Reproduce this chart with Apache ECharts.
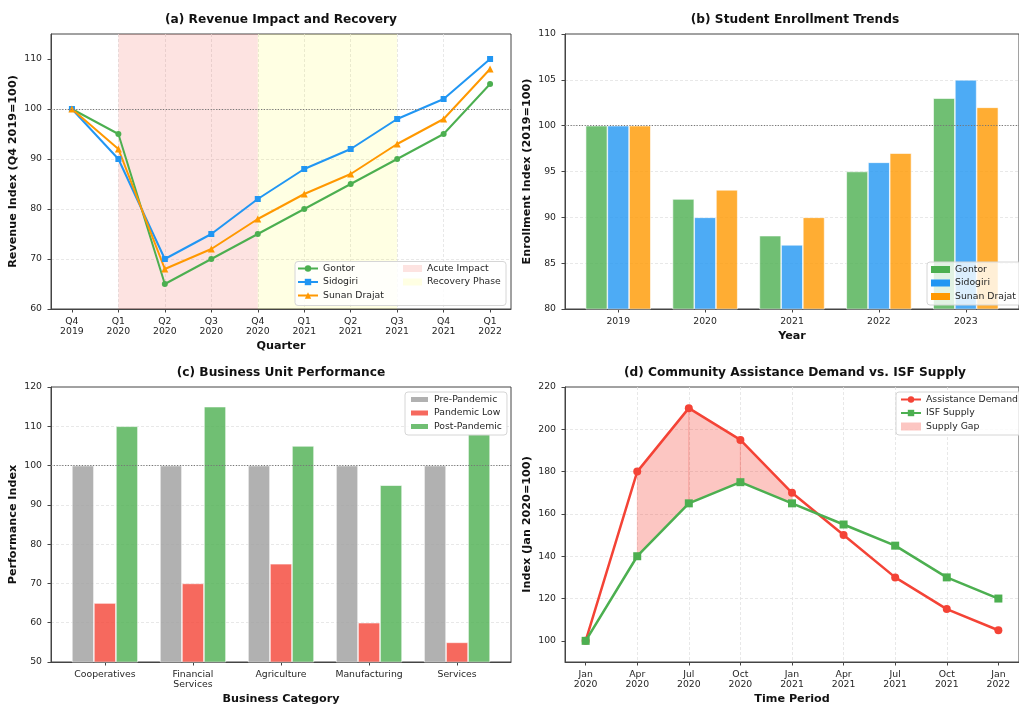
<!DOCTYPE html>
<html>
<head>
<meta charset="utf-8">
<script src="https://cdn.jsdelivr.net/npm/echarts@6/dist/echarts.min.js"></script>
<style>
  html, body { margin: 0; padding: 0; background: #fff; }
  #chart { width: 1019px; height: 706px; }
</style>
</head>
<body>
<div id="chart"></div>
<script>
// ---- (a) revenue index by quarter ----
const quarters = ['Q4\n2019', 'Q1\n2020', 'Q2\n2020', 'Q3\n2020', 'Q4\n2020',
                  'Q1\n2021', 'Q2\n2021', 'Q3\n2021', 'Q4\n2021', 'Q1\n2022'];
const revGontor   = [100, 95, 65, 70, 75, 80, 85, 90, 95, 105];
const revSidogiri = [100, 90, 70, 75, 82, 88, 92, 98, 102, 110];
const revSunan    = [100, 92, 68, 72, 78, 83, 87, 93, 98, 108];
const acuteSpan    = [1, 4];   // quarter index range
const recoverySpan = [4, 7];
const revTicks = [60, 70, 80, 90, 100, 110];

// ---- (b) enrollment index by year ----
const years = ['2019', '2020', '2021', '2022', '2023'];
const enrGontor   = [100, 92, 88, 95, 103];
const enrSidogiri = [100, 90, 87, 96, 105];
const enrSunan    = [100, 93, 90, 97, 102];
const enrTicks = [80, 85, 90, 95, 100, 105, 110];

// ---- (c) business unit performance ----
const units = ['Cooperatives', 'Financial\nServices', 'Agriculture', 'Manufacturing', 'Services'];
const perfPre  = [100, 100, 100, 100, 100];
const perfLow  = [65, 70, 75, 60, 55];
const perfPost = [110, 115, 105, 95, 108];
const perfTicks = [50, 60, 70, 80, 90, 100, 110, 120];

// ---- (d) assistance demand vs supply ----
const periods = ['Jan\n2020', 'Apr\n2020', 'Jul\n2020', 'Oct\n2020', 'Jan\n2021',
                 'Apr\n2021', 'Jul\n2021', 'Oct\n2021', 'Jan\n2022'];
const demand = [100, 180, 210, 195, 170, 150, 130, 115, 105];
const supply = [100, 140, 165, 175, 165, 155, 145, 130, 120];
const demandTicks = [100, 120, 140, 160, 180, 200, 220];

const GREEN = '#4CAF50', BLUE = '#2196F3', ORANGE = '#FF9800', RED = '#F44336';
// bar fills at 80% opacity
const BAR_GREEN = 'rgba(76,175,80,0.8)', BAR_BLUE = 'rgba(33,150,243,0.8)',
      BAR_ORANGE = 'rgba(255,152,0,0.8)', BAR_RED = 'rgba(244,67,54,0.8)', BAR_GRAY = 'rgba(158,158,158,0.8)';
const GAP_FILL = 'rgba(244,67,54,0.3)';
const FONT = 'DejaVu Sans';
const TXT = '#262626';

const pairs = arr => arr.map((v, i) => [i, v]);
const idx = n => Array.from({ length: n }, (_, i) => i);

const gridBox = (left, top) => ({
  left: left, top: top, width: 460, height: 275,
  show: true, borderColor: '#444', borderWidth: 1, backgroundColor: 'transparent'
});

const gridLine = {
  show: true, showMinLine: false, showMaxLine: false,
  lineStyle: { color: '#e2e2e2', type: [3, 2], width: 0.8 }
};

function xAxis(gi, min, max, labels, name, nameGap, grid) {
  const ticks = idx(labels.length);
  return {
    type: 'value', gridIndex: gi, min: min, max: max,
    name: name, nameLocation: 'middle', nameGap: nameGap,
    nameTextStyle: { fontFamily: FONT, fontWeight: 'bold', fontSize: 11.2, color: '#111' },
    axisLine: { show: true, onZero: false, lineStyle: { color: '#444', width: 1 } },
    axisTick: { show: true, length: 3.5, customValues: ticks, lineStyle: { color: '#444' } },
    axisLabel: {
      customValues: ticks, margin: 7, color: TXT, fontFamily: FONT, fontSize: 9.3, lineHeight: 10.5,
      formatter: v => labels[Math.round(v)]
    },
    splitLine: grid ? gridLine : { show: false }
  };
}

function yAxis(gi, min, max, ticks, name) {
  return {
    type: 'value', gridIndex: gi, min: min, max: max,
    name: name, nameLocation: 'middle', nameGap: 32,
    nameTextStyle: { fontFamily: FONT, fontWeight: 'bold', fontSize: 11.2, color: '#111' },
    axisLine: { show: true, onZero: false, lineStyle: { color: '#444', width: 1 } },
    axisTick: { show: true, length: 3.5, customValues: ticks, lineStyle: { color: '#444' } },
    axisLabel: { customValues: ticks, margin: 9, color: TXT, fontFamily: FONT, fontSize: 9.3 },
    splitLine: gridLine
  };
}

const refLine = {
  silent: true, symbol: 'none', label: { show: false },
  lineStyle: { color: '#777', type: [1.2, 1.6], width: 1 },
  data: [{ yAxis: 100 }]
};

function lineSeries(name, data, color, symbol, gi, width, size, extra) {
  return Object.assign({
    name: name, type: 'line', xAxisIndex: gi, yAxisIndex: gi,
    data: pairs(data), symbol: symbol, symbolSize: size, showSymbol: true,
    lineStyle: { color: color, width: width }, itemStyle: { color: color }, z: 3
  }, extra || {});
}

function barSeries(name, data, color, gi, extra) {
  return Object.assign({
    name: name, type: 'bar', xAxisIndex: gi, yAxisIndex: gi,
    data: pairs(data), barWidth: '25%', barGap: '0%',
    itemStyle: { color: color, borderColor: '#fff', borderWidth: 0.6 }
  }, extra || {});
}

function spanSeries(name, span, color) {
  return {
    name: name, type: 'line', xAxisIndex: 0, yAxisIndex: 0, data: [], z: 1,
    itemStyle: { color: color }, lineStyle: { color: color },
    markArea: { silent: true, itemStyle: { color: color }, data: [[{ xAxis: span[0] }, { xAxis: span[1] }]] }
  };
}

const legendText = { fontFamily: FONT, fontSize: 9.3, color: TXT, lineHeight: 11 };
const legendBase = {
  orient: 'vertical', itemWidth: 20, itemHeight: 8, itemGap: 2.5,
  textStyle: legendText, selectedMode: false
};
const boxedLegend = (left, top, data, icon) => Object.assign({}, legendBase, {
  left: left, top: top, icon: icon,
  itemWidth: icon === 'rect' ? 19 : 20, itemHeight: icon === 'rect' ? 7 : 8,
  data: data, padding: [2, 5, 3, 4],
  backgroundColor: 'rgba(255,255,255,0.8)', borderColor: '#d6d6d6', borderWidth: 1, borderRadius: 3
});

// segments between consecutive periods where demand exceeds supply
const gapIdx = idx(demand.length).filter(i => demand[i] > supply[i]);
const gapSegments = gapIdx.slice(0, -1)
  .filter((i, k) => gapIdx[k + 1] === i + 1)
  .map(i => [i, demand[i], supply[i], demand[i + 1], supply[i + 1]]);

function renderGap(params, api) {
  const i = api.value(0);
  const pts = [
    api.coord([i, api.value(1)]),
    api.coord([i + 1, api.value(3)]),
    api.coord([i + 1, api.value(4)]),
    api.coord([i, api.value(2)])
  ];
  return { type: 'polygon', shape: { points: pts }, style: { fill: GAP_FILL, stroke: GAP_FILL, lineWidth: 0.5 } };
}

const titleText = (x, y, text) => ({
  type: 'text', x: x, y: y, z: 10,
  style: { text: text, fill: '#111', font: 'bold 12.2px "DejaVu Sans"', textAlign: 'center', textVerticalAlign: 'middle' }
});

const option = {
  animation: false,
  backgroundColor: '#fff',
  textStyle: { fontFamily: FONT },
  grid: [gridBox(51, 34), gridBox(565, 34), gridBox(51, 387), gridBox(565, 387)],
  xAxis: [
    xAxis(0, -0.45, 9.45, quarters, 'Quarter', 32, true),
    xAxis(1, -0.6125, 4.6125, years, 'Year', 22, false),
    xAxis(2, -0.6125, 4.6125, units, 'Business Category', 32, false),
    xAxis(3, -0.4, 8.4, periods, 'Time Period', 32, true)
  ],
  yAxis: [
    yAxis(0, 60, 115, revTicks, 'Revenue Index (Q4 2019=100)'),
    yAxis(1, 80, 110, enrTicks, 'Enrollment Index (2019=100)'),
    yAxis(2, 50, 120, perfTicks, 'Performance Index'),
    yAxis(3, 90, 220, demandTicks, 'Index (Jan 2020=100)')
  ],
  legend: [
    Object.assign({}, legendBase, { left: 297, top: 263, padding: 0, data: ['Gontor', 'Sidogiri', 'Sunan Drajat'] }),
    Object.assign({}, legendBase, { left: 403, top: 263, padding: 0, icon: 'rect', itemWidth: 19, itemHeight: 7,
      data: ['Acute Impact', 'Recovery Phase'] }),
    boxedLegend(927, 262, ['Gontor', 'Sidogiri', 'Sunan Drajat'].map(n => ({ name: n })), 'rect'),
    boxedLegend(405, 392, ['Pre-Pandemic', 'Pandemic Low', 'Post-Pandemic'], 'rect'),
    Object.assign(boxedLegend(896, 392, [], undefined), {
      data: ['Assistance Demand', 'ISF Supply', { name: 'Supply Gap', icon: 'rect', itemStyle: { color: GAP_FILL } }]
    })
  ],
  graphic: [
    { type: 'rect', z: 3, shape: { x: 295, y: 261.5, width: 211, height: 44, r: 3 },
      style: { fill: 'rgba(255,255,255,0.8)', stroke: '#d6d6d6', lineWidth: 1 } },
    titleText(281, 20, '(a) Revenue Impact and Recovery'),
    titleText(795, 20, '(b) Student Enrollment Trends'),
    titleText(281, 373, '(c) Business Unit Performance'),
    titleText(795, 373, '(d) Community Assistance Demand vs. ISF Supply')
  ],
  series: [
    // (a)
    spanSeries('Acute Impact', acuteSpan, 'rgba(244,67,54,0.15)'),
    spanSeries('Recovery Phase', recoverySpan, 'rgba(255,255,0,0.11)'),
    lineSeries('Gontor', revGontor, GREEN, 'circle', 0, 2, 6, { markLine: refLine }),
    lineSeries('Sidogiri', revSidogiri, BLUE, 'rect', 0, 2, 6),
    lineSeries('Sunan Drajat', revSunan, ORANGE, 'triangle', 0, 2, 7),
    // (b)
    barSeries('Gontor', enrGontor, BAR_GREEN, 1),
    barSeries('Sidogiri', enrSidogiri, BAR_BLUE, 1),
    barSeries('Sunan Drajat', enrSunan, BAR_ORANGE, 1, { markLine: refLine }),
    // (c)
    barSeries('Pre-Pandemic', perfPre, BAR_GRAY, 2),
    barSeries('Pandemic Low', perfLow, BAR_RED, 2),
    barSeries('Post-Pandemic', perfPost, BAR_GREEN, 2, { markLine: refLine }),
    // (d)
    { name: 'Supply Gap', type: 'custom', xAxisIndex: 3, yAxisIndex: 3, data: gapSegments,
      renderItem: renderGap, itemStyle: { color: GAP_FILL }, silent: true, z: 1,
      encode: { x: [0], y: [1, 2, 3, 4] } },
    lineSeries('Assistance Demand', demand, RED, 'circle', 3, 2.5, 8),
    lineSeries('ISF Supply', supply, GREEN, 'rect', 3, 2.5, 8)
  ]
};

const chart = echarts.init(document.getElementById('chart'), null, { renderer: 'canvas' });
chart.setOption(option);
</script>
</body>
</html>
